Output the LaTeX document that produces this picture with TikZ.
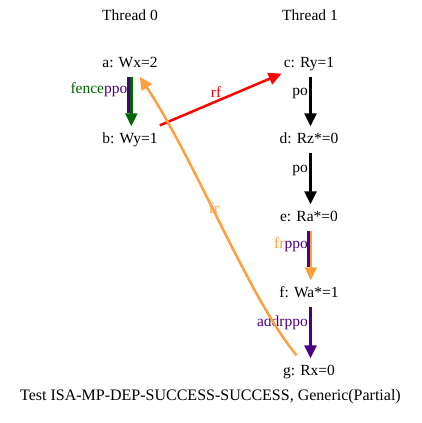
\documentclass[tikz,border=0pt]{standalone}
\usepackage{fontspec}
\setmainfont{Liberation Serif}
\usetikzlibrary{arrows.meta}
\definecolor{frorange}{RGB}{255,160,64}
\definecolor{ppoindigo}{RGB}{75,0,130}
\definecolor{fencegreen}{RGB}{0,100,0}
\begin{document}
\begin{tikzpicture}[x=1pt,y=-1pt,
  ev/.style={inner xsep=2pt, inner ysep=0pt, text height=11pt, text depth=0pt,
             minimum height=29pt, font=\fontsize{15.5}{18}\selectfont},
  lbl/.style={inner sep=0pt, font=\fontsize{15.5}{18}\selectfont},
  edg/.style={line width=2.5pt, -{Triangle[length=13pt,width=12pt]}},
  vedg/.style={edg, shorten >=-3pt},
  plainline/.style={line width=2.5pt, shorten >=10pt}]
\useasboundingbox (0,0) rectangle (422,423);
\node[lbl] (t0) at (130,15) {Thread 0};
\node[lbl] (t1) at (310,15) {Thread 1};
\node[ev] (a) at (130,62) {a: Wx=2};
\node[ev] (b) at (130,138) {b: Wy=1};
\node[ev] (c) at (309,62) {c: Ry=1};
\node[ev] (d) at (309,138) {d: Rz*=0};
\node[ev] (e) at (309,216) {e: Ra*=0};
\node[ev] (f) at (309,292) {f: Wa*=1};
\node[ev] (g) at (309,370) {g: Rx=0};
\node[lbl, font=\fontsize{16}{19}\selectfont] (title) at (210.5,397) {Test ISA-MP-DEP-SUCCESS-SUCCESS, Generic(Partial)};
% a -> b
\draw[plainline, ppoindigo] ([xshift=-1.3pt]a.south) -- ([xshift=-1.3pt]b.north);
\draw[vedg, fencegreen] ([xshift=1.3pt]a.south) -- ([xshift=1.3pt]b.north);
\node[lbl, anchor=east] (lab) at (127.5,90) {\textcolor{fencegreen}{fence}\textcolor{ppoindigo}{ppo}};
% c -> d
\draw[vedg, black] ([xshift=1.5pt]c.south) -- ([xshift=1.5pt]d.north);
\node[lbl, anchor=east] (lcd) at (308,93) {po};
% d -> e
\draw[vedg, black] ([xshift=1.5pt]d.south) -- ([xshift=1.5pt]e.north);
\node[lbl, anchor=east] (lde) at (308,170) {po};
% e -> f
\draw[plainline, ppoindigo] ([xshift=-0.7pt]e.south) -- ([xshift=-0.7pt]f.north);
\draw[vedg, frorange] ([xshift=1.8pt]e.south) -- ([xshift=1.8pt]f.north);
\node[lbl, anchor=east] (lef) at (308,245) {\textcolor{frorange}{fr}\textcolor{ppoindigo}{ppo}};
% f -> g
\draw[vedg, ppoindigo] ([xshift=1.5pt]f.south) -- ([xshift=1.5pt]g.north);
\node[lbl, anchor=east] (lfg) at (308,323) {\textcolor{ppoindigo}{addrppo}};
% rf
\draw[edg, red] (b) -- (c);
\node[lbl, text=red] (lrf) at (216,92) {rf};
% fr
\draw[edg, frorange] (g) .. controls (250,300) and (195,160) .. (a);
\node[lbl, text=frorange] (lfr) at (214,208) {fr};
\end{tikzpicture}
\end{document}
